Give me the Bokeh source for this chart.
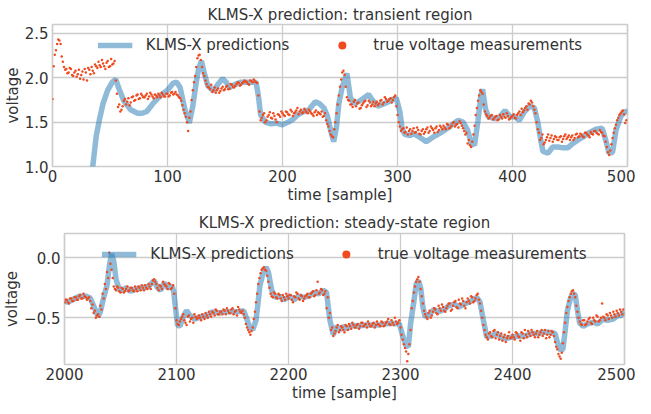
from bokeh.plotting import figure
from bokeh.models import Range1d, Legend, LegendItem
from bokeh.embed import file_html
from bokeh.resources import INLINE

FONT = "DejaVu Sans"
TXT = "#333333"
GRID = "#cccccc"
LINE_C = "#1f77b4"
DOT_C = "#f04a1f"

# ---------------- transient region (samples 0..500) ----------------
top_pred_x = [0, 10, 20, 28, 32, 35, 38, 41, 44, 48, 52, 55, 58, 62, 68, 74, 78, 82, 88, 94,
              100, 105, 108, 111, 115, 119, 122, 125, 127, 129.5, 132, 135, 140, 144, 148, 151,
              154, 158, 164, 170, 177, 179, 181, 185, 190, 195, 200, 205, 209, 213, 217, 223,
              228.5, 232, 236, 239, 242, 244.5, 247, 249, 252, 256, 259, 262, 266, 270.5, 275,
              278, 283, 289, 295, 299, 302, 304, 306.5, 311, 314, 318, 325, 332, 339, 346.5,
              352.5, 357, 361, 364, 367, 370, 372.5, 374, 376.5, 379, 385, 389, 393.5, 398, 402,
              406, 410.5, 415, 419, 422, 424.5, 426.5, 431, 435, 439.5, 444, 448, 452.5, 457,
              462, 468, 472.5, 478, 481, 484, 487, 490, 494, 498, 500]
top_pred_y = [0.0, 0.1, 0.35, 0.62, 0.82, 1.0, 1.34, 1.54, 1.71, 1.86, 1.95, 1.98, 1.87, 1.74, 1.64,
              1.60, 1.60, 1.62, 1.72, 1.80, 1.86, 1.94, 1.95, 1.89, 1.65, 1.49, 1.68, 1.95, 2.10,
              2.19, 2.05, 1.91, 1.85, 1.93, 1.99, 1.95, 1.89, 1.92, 1.95, 1.95, 1.95, 1.80, 1.58,
              1.50, 1.48, 1.49, 1.47, 1.50, 1.53, 1.58, 1.61, 1.64, 1.73, 1.71, 1.66, 1.57, 1.40,
              1.28, 1.45, 1.71, 1.90, 2.05, 1.78, 1.71, 1.73, 1.77, 1.81, 1.75, 1.68, 1.71, 1.75,
              1.77, 1.62, 1.43, 1.36, 1.35, 1.37, 1.34, 1.28, 1.34, 1.39, 1.46, 1.52, 1.50, 1.41,
              1.27, 1.24, 1.52, 1.80, 1.87, 1.65, 1.56, 1.54, 1.56, 1.63, 1.56, 1.56, 1.52, 1.62,
              1.68, 1.66, 1.50, 1.30, 1.17, 1.15, 1.22, 1.22, 1.21, 1.21, 1.26, 1.30, 1.34, 1.39,
              1.42, 1.43, 1.30, 1.15, 1.16, 1.41, 1.56, 1.62, 1.62]
# measurements at even samples 0, 2, ..., 498
top_meas_even = [1.76, 2.26, 2.38, 2.42, 2.24, 2.12, 2.10, 2.06, 2.10, 2.02,
                 2.08, 2.04, 1.99, 2.07, 2.10, 1.97, 2.09, 2.12, 2.05, 2.13,
                 2.18, 2.12, 2.16, 2.10, 2.19, 2.13, 2.15, 2.19, 1.82, 1.70,
                 1.64, 1.74, 1.70, 1.77, 1.72, 1.79, 1.75, 1.81, 1.77, 1.80,
                 1.78, 1.82, 1.79, 1.81, 1.77, 1.80, 1.82, 1.78, 1.81, 1.79,
                 1.82, 1.80, 1.84, 1.82, 1.81, 1.78, 1.74, 1.64, 1.56, 1.40,
                 1.62, 1.86, 2.02, 2.22, 2.26, 2.12, 2.02, 1.93, 1.89, 1.92,
                 1.86, 1.83, 1.88, 1.85, 1.90, 1.87, 1.91, 1.88, 1.92, 1.89,
                 1.93, 1.94, 1.92, 1.95, 1.96, 1.93, 1.97, 1.95, 1.96, 1.94,
                 1.62, 1.55, 1.60, 1.52, 1.58, 1.55, 1.60, 1.53, 1.59, 1.56,
                 1.60, 1.57, 1.61, 1.58, 1.62, 1.60, 1.63, 1.59, 1.64, 1.61,
                 1.63, 1.60, 1.62, 1.59, 1.61, 1.58, 1.60, 1.62, 1.57, 1.52,
                 1.45, 1.36, 1.33, 1.50, 1.70, 1.90, 2.06, 2.03, 1.78, 1.74,
                 1.70, 1.73, 1.68, 1.72, 1.66, 1.71, 1.74, 1.69, 1.72, 1.70,
                 1.68, 1.73, 1.71, 1.75, 1.72, 1.76, 1.74, 1.77, 1.75, 1.80,
                 1.58, 1.45, 1.42, 1.38, 1.44, 1.40, 1.37, 1.43, 1.39, 1.41,
                 1.36, 1.42, 1.39, 1.44, 1.40, 1.43, 1.38, 1.45, 1.41, 1.44,
                 1.46, 1.42, 1.47, 1.44, 1.49, 1.45, 1.48, 1.51, 1.46, 1.40,
                 1.38, 1.30, 1.22, 1.36, 1.58, 1.74, 1.86, 1.82, 1.62, 1.57,
                 1.55, 1.58, 1.54, 1.57, 1.53, 1.56, 1.59, 1.55, 1.57, 1.54,
                 1.57, 1.55, 1.58, 1.62, 1.65, 1.63, 1.68, 1.71, 1.74, 1.68,
                 1.60, 1.42, 1.30, 1.36, 1.27, 1.33, 1.29, 1.35, 1.31, 1.33,
                 1.30, 1.34, 1.31, 1.36, 1.33, 1.30, 1.35, 1.32, 1.37, 1.34,
                 1.36, 1.33, 1.38, 1.35, 1.39, 1.36, 1.40, 1.37, 1.41, 1.38,
                 1.34, 1.22, 1.13, 1.25, 1.38, 1.47, 1.55, 1.60, 1.63, 1.49]
# measurements at odd samples 1, 3, ..., 499
top_meas_odd = [2.13, 2.31, 2.43, 2.38, 2.18, 2.09, 2.05, 2.11, 2.03, 2.06,
                2.01, 2.09, 2.03, 1.98, 2.06, 2.11, 2.04, 2.08, 2.15, 2.11,
                2.14, 2.20, 2.13, 2.17, 2.12, 2.21, 2.16, 1.97, 1.67, 1.62,
                1.68, 1.76, 1.73, 1.69, 1.78, 1.74, 1.80, 1.76, 1.82, 1.78,
                1.80, 1.76, 1.83, 1.79, 1.81, 1.78, 1.80, 1.83, 1.79, 1.82,
                1.79, 1.83, 1.81, 1.84, 1.80, 1.77, 1.69, 1.60, 1.50, 1.55,
                1.75, 1.95, 2.12, 2.25, 2.20, 2.05, 1.97, 1.90, 1.87, 1.84,
                1.89, 1.86, 1.83, 1.88, 1.86, 1.90, 1.87, 1.93, 1.90, 1.91,
                1.95, 1.91, 1.94, 1.97, 1.95, 1.92, 1.96, 1.98, 1.95, 1.80,
                1.52, 1.58, 1.50, 1.56, 1.61, 1.54, 1.57, 1.50, 1.58, 1.62,
                1.58, 1.62, 1.59, 1.64, 1.57, 1.61, 1.66, 1.62, 1.60, 1.65,
                1.61, 1.64, 1.60, 1.57, 1.63, 1.61, 1.59, 1.56, 1.60, 1.48,
                1.40, 1.34, 1.42, 1.60, 1.80, 1.98, 2.08, 1.90, 1.75, 1.70,
                1.67, 1.75, 1.71, 1.65, 1.69, 1.73, 1.67, 1.74, 1.68, 1.73,
                1.71, 1.69, 1.74, 1.70, 1.78, 1.73, 1.76, 1.72, 1.78, 1.68,
                1.50, 1.40, 1.43, 1.39, 1.36, 1.42, 1.40, 1.38, 1.44, 1.37,
                1.40, 1.37, 1.42, 1.38, 1.45, 1.41, 1.43, 1.39, 1.46, 1.42,
                1.44, 1.48, 1.43, 1.46, 1.50, 1.47, 1.44, 1.49, 1.43, 1.36,
                1.26, 1.24, 1.28, 1.46, 1.66, 1.80, 1.84, 1.70, 1.59, 1.54,
                1.57, 1.53, 1.56, 1.52, 1.58, 1.54, 1.56, 1.60, 1.53, 1.56,
                1.59, 1.54, 1.60, 1.58, 1.61, 1.66, 1.64, 1.70, 1.72, 1.64,
                1.50, 1.38, 1.32, 1.25, 1.30, 1.36, 1.32, 1.28, 1.34, 1.30,
                1.33, 1.28, 1.34, 1.31, 1.35, 1.33, 1.30, 1.36, 1.33, 1.37,
                1.34, 1.38, 1.36, 1.33, 1.37, 1.40, 1.38, 1.36, 1.39, 1.35,
                1.28, 1.16, 1.18, 1.32, 1.43, 1.52, 1.58, 1.62, 1.59, 1.52]
top_xticks = [0, 100, 200, 300, 400, 500]
top_yticks = [1.0, 1.5, 2.0, 2.5]
top_ylabels = {1.0: "1.0", 1.5: "1.5", 2.0: "2.0", 2.5: "2.5"}

# ---------------- steady-state region (samples 2000..2500) ----------------
bot_pred_x = [2000, 2003, 2007, 2013, 2019, 2023, 2026, 2030, 2032, 2035, 2038, 2040, 2042, 2044,
              2046, 2049, 2052, 2055, 2059, 2064, 2070, 2075, 2080, 2083, 2086, 2089, 2092, 2096,
              2097.5, 2099, 2101, 2103, 2106, 2109, 2112, 2116, 2122, 2128, 2132, 2138, 2143, 2149,
              2155, 2160, 2162, 2165, 2168, 2171, 2173, 2174.5, 2177, 2180, 2182, 2185, 2188, 2192,
              2196, 2201, 2205, 2209, 2214, 2218, 2223, 2227, 2231, 2234, 2235.5, 2237, 2240, 2243,
              2246, 2249, 2252, 2257, 2262, 2268, 2274, 2280, 2286, 2292, 2299, 2302, 2305, 2307,
              2309, 2312, 2314, 2316, 2318, 2320, 2322, 2325, 2330, 2334, 2339, 2343, 2348, 2352,
              2357, 2361, 2365, 2368, 2371, 2374, 2377, 2382, 2386, 2391, 2395, 2399, 2405, 2411,
              2417, 2422, 2428, 2433, 2438, 2440, 2443, 2445, 2447, 2449, 2452, 2454, 2456, 2458,
              2460, 2463, 2467, 2472, 2476, 2481, 2485, 2490, 2494, 2497, 2500]
bot_pred_y = [-0.36, -0.37, -0.35, -0.32, -0.32, -0.335, -0.40, -0.49, -0.45, -0.33, -0.23, -0.07,
              0.03, -0.03, -0.18, -0.27, -0.27, -0.25, -0.28, -0.26, -0.25, -0.24, -0.19, -0.25,
              -0.27, -0.21, -0.25, -0.24, -0.28, -0.41, -0.56, -0.57, -0.49, -0.44, -0.48, -0.51,
              -0.49, -0.48, -0.45, -0.46, -0.45, -0.45, -0.45, -0.44, -0.49, -0.57, -0.60, -0.52,
              -0.36, -0.23, -0.14, -0.08, -0.12, -0.27, -0.33, -0.32, -0.35, -0.32, -0.35, -0.32,
              -0.33, -0.32, -0.29, -0.30, -0.27, -0.29, -0.41, -0.52, -0.64, -0.57, -0.60, -0.57,
              -0.59, -0.56, -0.57, -0.56, -0.56, -0.56, -0.55, -0.545, -0.55, -0.65, -0.73, -0.74,
              -0.55, -0.36, -0.22, -0.19, -0.25, -0.41, -0.49, -0.48, -0.43, -0.45, -0.43, -0.40,
              -0.385, -0.41, -0.385, -0.37, -0.35, -0.33, -0.37, -0.52, -0.66, -0.645, -0.63, -0.67,
              -0.67, -0.66, -0.65, -0.65, -0.63, -0.63, -0.62, -0.62, -0.63, -0.70, -0.77, -0.76,
              -0.61, -0.44, -0.33, -0.30, -0.31, -0.44, -0.545, -0.57, -0.55, -0.535, -0.55, -0.51,
              -0.52, -0.51, -0.48, -0.48, -0.45]
# measurements at even samples 2000, 2002, ..., 2498
bot_meas_even = [-0.37, -0.35, -0.38, -0.34, -0.36, -0.33, -0.35, -0.31, -0.34, -0.32,
                 -0.35, -0.33, -0.42, -0.46, -0.50, -0.47, -0.40, -0.30, -0.22, -0.12,
                 0.04, -0.10, -0.24, -0.27, -0.25, -0.29, -0.26, -0.28, -0.24, -0.27,
                 -0.25, -0.28, -0.26, -0.24, -0.27, -0.25, -0.23, -0.26, -0.24, -0.22,
                 -0.18, -0.22, -0.27, -0.24, -0.20, -0.23, -0.26, -0.22, -0.25, -0.30,
                 -0.52, -0.56, -0.51, -0.47, -0.54, -0.49, -0.53, -0.50, -0.47, -0.51,
                 -0.48, -0.52, -0.49, -0.46, -0.50, -0.47, -0.45, -0.48, -0.44, -0.47,
                 -0.45, -0.43, -0.47, -0.44, -0.46, -0.42, -0.45, -0.48, -0.43, -0.46,
                 -0.47, -0.55, -0.60, -0.64, -0.58, -0.45, -0.30, -0.17, -0.10, -0.08,
                 -0.11, -0.20, -0.30, -0.33, -0.30, -0.34, -0.31, -0.36, -0.33, -0.30,
                 -0.34, -0.31, -0.37, -0.33, -0.30, -0.35, -0.32, -0.34, -0.31, -0.33,
                 -0.30, -0.28, -0.31, -0.20, -0.29, -0.27, -0.30, -0.42, -0.50, -0.60,
                 -0.65, -0.61, -0.56, -0.60, -0.58, -0.62, -0.57, -0.55, -0.59, -0.56,
                 -0.58, -0.55, -0.57, -0.54, -0.56, -0.58, -0.55, -0.57, -0.54, -0.56,
                 -0.55, -0.57, -0.54, -0.56, -0.53, -0.55, -0.52, -0.56, -0.53, -0.54,
                 -0.58, -0.68, -0.75, -0.86, -0.72, -0.42, -0.29, -0.20, -0.16, -0.26,
                 -0.38, -0.47, -0.51, -0.44, -0.48, -0.42, -0.46, -0.40, -0.44, -0.41,
                 -0.45, -0.40, -0.38, -0.43, -0.37, -0.41, -0.35, -0.39, -0.36, -0.42,
                 -0.34, -0.38, -0.33, -0.36, -0.31, -0.35, -0.44, -0.56, -0.64, -0.68,
                 -0.62, -0.66, -0.60, -0.64, -0.68, -0.63, -0.66, -0.70, -0.65, -0.67,
                 -0.64, -0.68, -0.63, -0.66, -0.62, -0.67, -0.64, -0.61, -0.65, -0.62,
                 -0.66, -0.61, -0.64, -0.60, -0.63, -0.67, -0.61, -0.64, -0.62, -0.70,
                 -0.76, -0.82, -0.79, -0.62, -0.46, -0.36, -0.30, -0.27, -0.33, -0.45,
                 -0.53, -0.56, -0.52, -0.55, -0.51, -0.54, -0.50, -0.53, -0.49, -0.52,
                 -0.38, -0.50, -0.47, -0.51, -0.48, -0.45, -0.49, -0.46, -0.43, -0.47]
# measurements at odd samples 2001, 2003, ..., 2499
bot_meas_odd = [-0.35, -0.37, -0.34, -0.36, -0.33, -0.35, -0.32, -0.34, -0.30, -0.33,
                -0.34, -0.36, -0.39, -0.44, -0.48, -0.49, -0.43, -0.34, -0.26, -0.17,
                -0.05, -0.17, -0.26, -0.24, -0.28, -0.25, -0.29, -0.26, -0.28, -0.25,
                -0.27, -0.24, -0.28, -0.25, -0.23, -0.27, -0.25, -0.22, -0.26, -0.19,
                -0.20, -0.25, -0.23, -0.26, -0.22, -0.24, -0.21, -0.26, -0.23, -0.42,
                -0.55, -0.53, -0.49, -0.52, -0.56, -0.48, -0.51, -0.54, -0.49, -0.50,
                -0.50, -0.47, -0.51, -0.48, -0.45, -0.49, -0.46, -0.43, -0.47, -0.45,
                -0.47, -0.44, -0.42, -0.46, -0.43, -0.47, -0.44, -0.41, -0.45, -0.44,
                -0.50, -0.58, -0.62, -0.61, -0.51, -0.37, -0.22, -0.13, -0.09, -0.10,
                -0.15, -0.25, -0.32, -0.29, -0.33, -0.30, -0.34, -0.31, -0.35, -0.32,
                -0.31, -0.35, -0.32, -0.29, -0.34, -0.31, -0.36, -0.32, -0.30, -0.33,
                -0.29, -0.32, -0.27, -0.30, -0.26, -0.31, -0.28, -0.33, -0.46, -0.58,
                -0.63, -0.58, -0.62, -0.57, -0.60, -0.56, -0.60, -0.57, -0.54, -0.58,
                -0.56, -0.59, -0.54, -0.57, -0.55, -0.53, -0.57, -0.55, -0.58, -0.53,
                -0.56, -0.53, -0.57, -0.54, -0.51, -0.56, -0.54, -0.50, -0.55, -0.52,
                -0.64, -0.72, -0.78, -0.80, -0.60, -0.36, -0.24, -0.18, -0.20, -0.32,
                -0.44, -0.49, -0.46, -0.50, -0.45, -0.43, -0.47, -0.42, -0.39, -0.44,
                -0.42, -0.38, -0.44, -0.40, -0.36, -0.42, -0.38, -0.34, -0.40, -0.37,
                -0.36, -0.32, -0.37, -0.34, -0.30, -0.38, -0.50, -0.60, -0.66, -0.63,
                -0.65, -0.61, -0.67, -0.62, -0.65, -0.69, -0.64, -0.67, -0.62, -0.66,
                -0.66, -0.62, -0.65, -0.69, -0.63, -0.60, -0.66, -0.63, -0.60, -0.64,
                -0.63, -0.66, -0.62, -0.65, -0.60, -0.64, -0.66, -0.61, -0.65, -0.74,
                -0.80, -0.84, -0.71, -0.54, -0.41, -0.33, -0.28, -0.30, -0.40, -0.50,
                -0.55, -0.52, -0.56, -0.53, -0.50, -0.55, -0.52, -0.48, -0.53, -0.50,
                -0.49, -0.52, -0.48, -0.46, -0.50, -0.47, -0.44, -0.48, -0.45, -0.43]
bot_xticks = [2000, 2100, 2200, 2300, 2400, 2500]
bot_yticks = [-0.5, 0.0]
bot_ylabels = {-0.5: "\u22120.5", 0.0: "0.0"}

TITLES = ["KLMS-X prediction: transient region", "KLMS-X prediction: steady-state region"]
LEG = ["KLMS-X predictions", "true voltage measurements"]


def make(title, xr, yr, xticks, yticks, ylabels, px, py, mx, my, W, H, bl, br, bt, bb, tstand):
    p = figure(width=W, height=H, x_range=Range1d(*xr), y_range=Range1d(*yr),
               output_backend="svg", toolbar_location=None,
               min_border_left=bl, min_border_right=br, min_border_top=bt, min_border_bottom=bb)
    p.title.text = title
    p.title.align = "center"
    p.title.text_font = FONT
    p.title.text_font_size = "15px"
    p.title.text_font_style = "normal"
    p.title.text_color = TXT
    p.title.standoff = tstand
    p.title.offset = 0
    p.outline_line_color = GRID
    p.outline_line_width = 1.7
    for ax in (p.xaxis[0], p.yaxis[0]):
        ax.axis_line_color = None
        ax.major_tick_in = 0
        ax.major_tick_out = 0
        ax.minor_tick_in = 0
        ax.minor_tick_out = 0
        ax.major_label_text_font = FONT
        ax.major_label_text_font_size = "15px"
        ax.major_label_text_color = TXT
        ax.axis_label_text_font = FONT
        ax.axis_label_text_font_size = "15px"
        ax.axis_label_text_font_style = "normal"
        ax.axis_label_text_color = TXT
    p.xaxis.ticker = xticks
    p.yaxis.ticker = yticks
    p.yaxis.major_label_overrides = ylabels
    p.xaxis.axis_label = "time [sample]"
    p.yaxis.axis_label = "voltage"
    p.xaxis.major_label_standoff = 3
    p.xaxis.axis_label_standoff = 1
    p.yaxis.major_label_standoff = 4
    p.yaxis.axis_label_standoff = 0
    p.xgrid.grid_line_color = GRID
    p.ygrid.grid_line_color = GRID
    p.xgrid.grid_line_width = 1.3
    p.ygrid.grid_line_width = 1.3
    ln = p.line(px, py, line_width=5.5, line_color=LINE_C, line_alpha=0.5)
    dt = p.scatter(mx, my, size=2.5, fill_color=DOT_C, line_color=None)
    leg = Legend(items=[LegendItem(label=LEG[0], renderers=[ln]),
                        LegendItem(label=LEG[1], renderers=[dt])],
                 orientation="horizontal", location="top_center",
                 glyph_width=35, label_standoff=14, spacing=35,
                 margin=0, padding=11,
                 label_text_font=FONT, label_text_font_size="15px", label_text_color=TXT,
                 background_fill_alpha=0, border_line_alpha=0)
    p.add_layout(leg)
    return p


top_mx = list(range(0, 500, 2)) + list(range(1, 500, 2))
top_my = top_meas_even + top_meas_odd
bot_mx = list(range(2000, 2500, 2)) + list(range(2001, 2500, 2))
bot_my = bot_meas_even + bot_meas_odd

p1 = make(TITLES[0], (0, 500), (1.0, 2.6), top_xticks, top_yticks, top_ylabels,
          top_pred_x, top_pred_y, top_mx, top_my, 635, 207, 46, 8, 24, 41, 1)
p2 = make(TITLES[1], (2000, 2500), (-0.887, 0.2), bot_xticks, bot_yticks, bot_ylabels,
          bot_pred_x, bot_pred_y, bot_mx, bot_my, 635, 197, 56, 11, 26, 35, 4)

# two independent roots stacked on the page (no cross-plot frame alignment)
open("out.html", "w").write(file_html([p1, p2], INLINE))
